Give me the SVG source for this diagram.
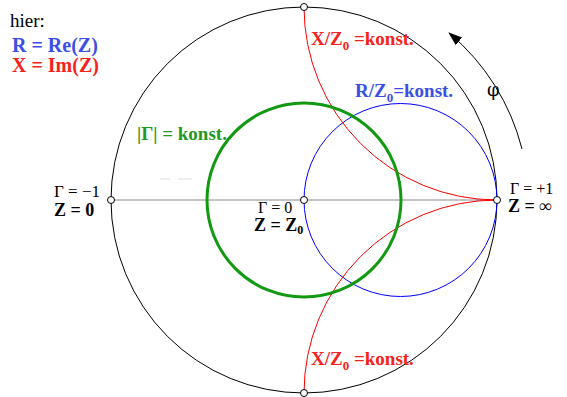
<svg xmlns="http://www.w3.org/2000/svg" width="567" height="397" viewBox="0 0 567 397">
<style>
.t{font-family:"Liberation Serif","Times New Roman",serif;font-size:19px}
.b{font-weight:bold}
.blk{fill:#000}
.red{fill:#f5231b}
.blu{fill:#3b4fe6}
.grn{fill:#1f9a1f}
.pt{fill:#fff;stroke:#000;stroke-width:1}
</style>
<defs>
<marker id="ah" markerWidth="14" markerHeight="10" refX="13" refY="5" orient="auto" markerUnits="userSpaceOnUse">
<path d="M0,0 L14,5 L0,10 Z" fill="#000"/>
</marker>
</defs>
<rect width="567" height="397" fill="#fff"/>
<g id="curves" fill="none">
<line id="axis" x1="111" y1="200" x2="497" y2="200" stroke="#888" stroke-width="1"/>
<circle id="unit-circle" cx="304" cy="200" r="193" stroke="#000" stroke-width="1"/>
<circle id="r-circle" cx="400.5" cy="200" r="96.5" stroke="#0000ff" stroke-width="1"/>
<path id="x-arc-top" d="M304,7 A193,193 0 0 0 497,200" stroke="#ff0000" stroke-width="1"/>
<path id="x-arc-bottom" d="M304,393 A193,193 0 0 1 497,200" stroke="#ff0000" stroke-width="1"/>
<circle id="gamma-circle" cx="304" cy="200" r="97" stroke="#119911" stroke-width="3"/>
<path id="phi-arrow" d="M522,149 A222,222 0 0 0 449,33" stroke="#000" stroke-width="1" marker-end="url(#ah)"/>
<line x1="160" y1="179" x2="170" y2="179" stroke="#ddd" stroke-width="1"/>
<line x1="178" y1="179" x2="192" y2="179" stroke="#ddd" stroke-width="1"/>
</g>
<g id="points">
<circle class="pt" cx="304" cy="7" r="3.5"/>
<circle class="pt" cx="111" cy="200" r="3.5"/>
<circle class="pt" cx="304" cy="200" r="3.5"/>
<circle class="pt" cx="497" cy="200" r="3.5"/>
<circle class="pt" cx="304" cy="393" r="3.5"/>
</g>
<g id="legend">
<text class="t blk" x="10" y="27" style="font-size:19px">hier:</text>
<text class="t b blu" x="12" y="52" style="font-size:20px">R = Re(Z)</text>
<text class="t b red" x="12" y="72" style="font-size:20px">X = Im(Z)</text>
</g>
<g id="labels">
<text class="t b red" x="311" y="45">X/Z<tspan font-size="13" dy="5">0</tspan><tspan dy="-5"> =konst.</tspan></text>
<text class="t b red" x="311" y="365">X/Z<tspan font-size="13" dy="5">0</tspan><tspan dy="-5"> =konst.</tspan></text>
<text class="t b blu" x="355" y="97">R/Z<tspan font-size="13" dy="5">0</tspan><tspan dy="-5">=konst.</tspan></text>
<text class="t b grn" x="137" y="140">|Γ| = konst.</text>
<text x="487" y="96" fill="#000" font-family="'DejaVu Serif','Liberation Serif',serif" font-size="18">φ</text>
<text class="t blk" x="54" y="197" style="font-size:17px">Γ = −1</text>
<text class="t b blk" x="54" y="216" style="font-size:18px">Z = 0</text>
<text class="t blk" x="258" y="213" style="font-size:16px">Γ = 0</text>
<text class="t b blk" x="254" y="231" style="font-size:18px">Z = Z<tspan font-size="12" dy="3">0</tspan></text>
<text class="t blk" x="510" y="194" style="font-size:16px">Γ = +1</text>
<text class="t b blk" x="508" y="212" style="font-size:18px">Z = ∞</text>
</g>
</svg>
